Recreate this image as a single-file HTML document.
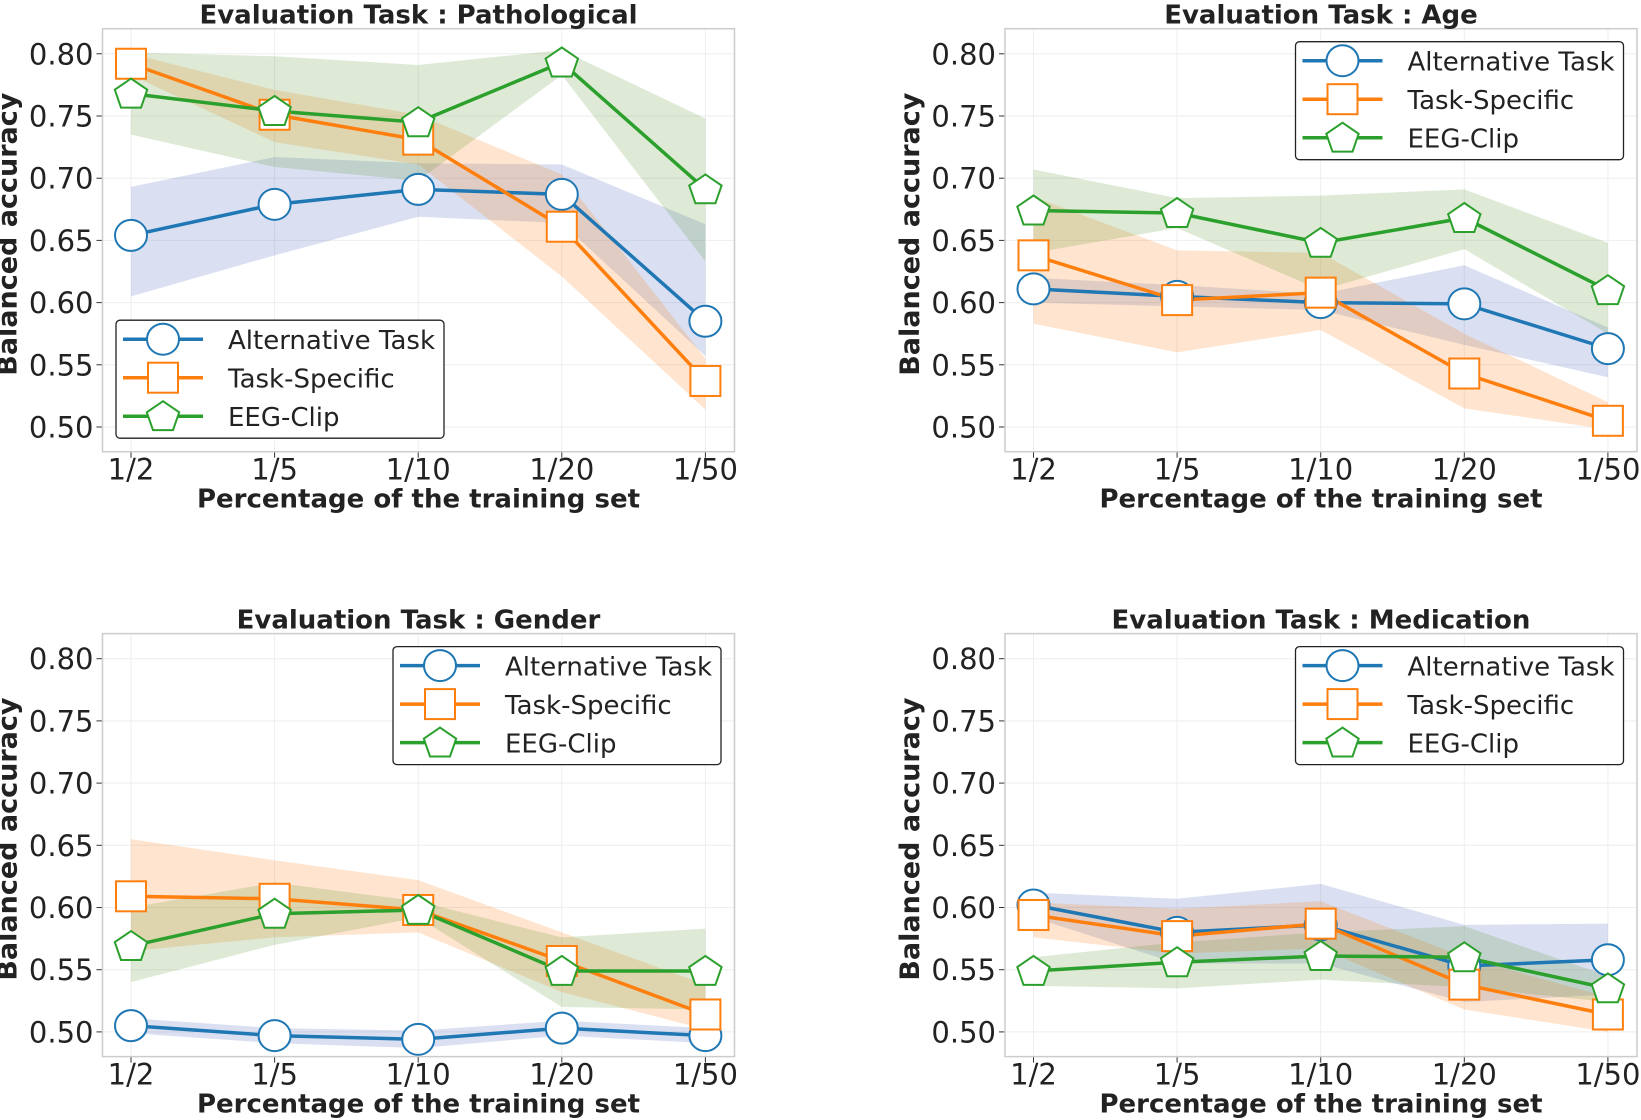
<!DOCTYPE html>
<html><head><meta charset="utf-8"><style>
html,body{margin:0;padding:0;background:#fff;}
svg{display:block;font-family:"DejaVu Sans","Liberation Sans",sans-serif;}
</style></head><body>
<svg id="fig" width="1641" height="1120" viewBox="0 0 1641 1120"></svg>
<script>
const categories = ["1/2","1/5","1/10","1/20","1/50"];
const yTicks = [0.50,0.55,0.60,0.65,0.70,0.75,0.80];
const yTickLabels = ["0.50","0.55","0.60","0.65","0.70","0.75","0.80"];
const seriesNames = ["Alternative Task","Task-Specific","EEG-Clip"];
const panelTitles = ["Evaluation Task : Pathological","Evaluation Task : Age","Evaluation Task : Gender","Evaluation Task : Medication"];

const pathAlt = [0.654,0.679,0.691,0.687,0.585];
const pathAltHi = [0.693,0.717,0.712,0.711,0.663];
const pathAltLo = [0.605,0.638,0.669,0.664,0.557];
const pathTask = [0.792,0.751,0.731,0.661,0.537];
const pathTaskHi = [0.800,0.771,0.751,0.703,0.555];
const pathTaskLo = [0.783,0.729,0.711,0.621,0.514];
const pathClip = [0.768,0.754,0.745,0.793,0.691];
const pathClipHi = [0.801,0.798,0.791,0.803,0.748];
const pathClipLo = [0.735,0.709,0.698,0.783,0.633];

const ageAlt = [0.611,0.605,0.600,0.599,0.563];
const ageAltHi = [0.620,0.614,0.607,0.630,0.580];
const ageAltLo = [0.600,0.597,0.594,0.566,0.540];
const ageTask = [0.638,0.602,0.608,0.543,0.505];
const ageTaskHi = [0.685,0.642,0.640,0.575,0.520];
const ageTaskLo = [0.583,0.560,0.578,0.515,0.498];
const ageClip = [0.674,0.672,0.648,0.668,0.610];
const ageClipHi = [0.707,0.684,0.686,0.691,0.648];
const ageClipLo = [0.640,0.660,0.610,0.643,0.575];

const genAlt = [0.505,0.497,0.494,0.503,0.497];
const genAltHi = [0.511,0.503,0.501,0.509,0.503];
const genAltLo = [0.499,0.491,0.487,0.497,0.491];
const genTask = [0.609,0.607,0.598,0.557,0.514];
const genTaskHi = [0.655,0.638,0.622,0.580,0.538];
const genTaskLo = [0.565,0.576,0.580,0.532,0.502];
const genClip = [0.569,0.595,0.598,0.549,0.549];
const genClipHi = [0.600,0.620,0.605,0.576,0.583];
const genClipLo = [0.540,0.570,0.592,0.520,0.518];

const medAlt = [0.602,0.580,0.586,0.553,0.558];
const medAltHi = [0.612,0.607,0.619,0.586,0.587];
const medAltLo = [0.592,0.555,0.555,0.524,0.530];
const medTask = [0.594,0.577,0.587,0.538,0.514];
const medTaskHi = [0.604,0.599,0.605,0.560,0.528];
const medTaskLo = [0.576,0.563,0.567,0.518,0.500];
const medClip = [0.549,0.556,0.561,0.560,0.535];
const medClipHi = [0.560,0.572,0.580,0.585,0.545];
const medClipLo = [0.537,0.535,0.542,0.536,0.524];

const NS="http://www.w3.org/2000/svg";
const svg=document.getElementById('fig');
function mk(tag,attrs,parent){const e=document.createElementNS(NS,tag);for(const k in attrs)e.setAttribute(k,attrs[k]);(parent||svg).appendChild(e);return e;}
const colors=["#1f77b4","#ff7f0e","#2ca02c"];
const fills=["rgba(70,100,190,0.2)","rgba(255,127,14,0.2)","rgba(90,150,50,0.2)"];
const shapes=["circle","square","pentagon"];

function marker(g,shape,cx,cy,color){
  let e;
  if(shape==="circle") e=mk('ellipse',{cx:cx,cy:cy,rx:16,ry:15.5,fill:'#fff',stroke:color,'stroke-width':2},g);
  else if(shape==="square") e=mk('rect',{x:cx-15,y:cy-15,width:30,height:30,fill:'#fff',stroke:color,'stroke-width':2},g);
  else {let p=[];for(let i=0;i<5;i++){const a=-Math.PI/2+i*2*Math.PI/5;p.push((cx+17*Math.cos(a)).toFixed(1)+','+(cy+16*Math.sin(a)+1).toFixed(1));}
    e=mk('polygon',{points:p.join(' '),fill:'#fff',stroke:color,'stroke-width':2},g);}
  return e;
}

const panels=[
  {ax:102.5,ay:28.7,series:[[pathAlt,pathAltLo,pathAltHi],[pathTask,pathTaskLo,pathTaskHi],[pathClip,pathClipLo,pathClipHi]],legend:'ll'},
  {ax:1005,ay:28.7,series:[[ageAlt,ageAltLo,ageAltHi],[ageTask,ageTaskLo,ageTaskHi],[ageClip,ageClipLo,ageClipHi]],legend:'ur'},
  {ax:102.5,ay:633.6,series:[[genAlt,genAltLo,genAltHi],[genTask,genTaskLo,genTaskHi],[genClip,genClipLo,genClipHi]],legend:'ur'},
  {ax:1005,ay:633.6,series:[[medAlt,medAltLo,medAltHi],[medTask,medTaskLo,medTaskHi],[medClip,medClipLo,medClipHi]],legend:'ur'}
];
const W=632,H=423;

panels.forEach((p,pi)=>{
  const g=mk('g',{});
  
  
  const yTop=p.ay+25.1;
  const yScale=v=>yTop+(0.80-v)/0.05*62.2;
  const xScale=i=>p.ax+28.5+i*143.6;
  yTicks.forEach((t,i)=>{
    const y=yScale(t);
    mk('line',{x1:p.ax,x2:p.ax+W,y1:y,y2:y,stroke:'#eeeeee','stroke-width':1},g);
    mk('line',{x1:p.ax-6,x2:p.ax,y1:y,y2:y,stroke:'#333','stroke-width':1},g);
    const t1=mk('text',{x:p.ax-9,y:y+10.5,'text-anchor':'end','font-size':29,fill:'#222'},g);
    t1.textContent=yTickLabels[i];
    
    
  });
  categories.forEach((c,i)=>{
    const x=xScale(i);
    mk('line',{x1:x,x2:x,y1:p.ay,y2:p.ay+H,stroke:'#eeeeee','stroke-width':1},g);
    mk('line',{x1:x,x2:x,y1:p.ay+H,y2:p.ay+H+6,stroke:'#333','stroke-width':1},g);
    const t=mk('text',{x:x,y:p.ay+H+28,'text-anchor':'middle','font-size':29,fill:'#222'},g);
    t.textContent=c;
    
    
  });
  p.series.forEach((s,si)=>{
    const pts=[];
    s[2].forEach((v,i)=>pts.push(xScale(i)+','+yScale(v)));
    for(let i=s[1].length-1;i>=0;i--)pts.push(xScale(i)+','+yScale(s[1][i]));
    const b=mk('polygon',{points:pts.join(' '),fill:fills[si],stroke:'none'},g);
    
    
  });
  p.series.forEach((s,si)=>{
    const l=mk('polyline',{points:s[0].map((v,i)=>xScale(i)+','+yScale(v)).join(' '),fill:'none',stroke:colors[si],'stroke-width':3.5},g);
    
    
  });
  p.series.forEach((s,si)=>{
    s[0].forEach((v,i)=>{
      const m=marker(g,shapes[si],xScale(i),yScale(v),colors[si]);
      
      
    });
  });
  mk('rect',{x:p.ax,y:p.ay,width:W,height:H,fill:'none',stroke:'#cccccc','stroke-width':1.5},g);
  const tt=mk('text',{x:p.ax+W/2,y:p.ay-5,'text-anchor':'middle','font-size':26,'font-weight':'bold',fill:'#222'},g);
  tt.textContent=panelTitles[pi];
  
  
  const xl=mk('text',{x:p.ax+W/2,y:p.ay+H+56,'text-anchor':'middle','font-size':26,'font-weight':'bold',fill:'#222'},g);
  xl.textContent='Percentage of the training set';
  
  
  const ycx=p.ax-86, ycy=p.ay+H/2-6;
  const yl=mk('text',{x:ycx,y:ycy,'text-anchor':'middle','font-size':27,'font-weight':'bold',fill:'#222',transform:'rotate(-90 '+ycx+' '+ycy+')'},g);
  yl.textContent='Balanced accuracy';
  
  
  let lx,ly;
  if(p.legend==='ll'){lx=p.ax+13.5;ly=p.ay+291.5;}else{lx=p.ax+W-341.5;ly=p.ay+13;}
  const lg=mk('g',{},g);
  
  
  mk('rect',{x:lx,y:ly,width:328,height:118,rx:4,fill:'#fff',stroke:'#222','stroke-width':1.3},lg);
  seriesNames.forEach((n,si)=>{
    const ry=ly+19+si*38.5;
    const e=mk('g',{},lg);
    
    
    mk('line',{x1:lx+7,x2:lx+87,y1:ry,y2:ry,stroke:colors[si],'stroke-width':3.5},e);
    marker(e,shapes[si],lx+47,ry,colors[si]);
    const t=mk('text',{x:lx+112,y:ry+10,'font-size':26,fill:'#222'},e);
    t.textContent=n;
  });
});
</script>
</body></html>
